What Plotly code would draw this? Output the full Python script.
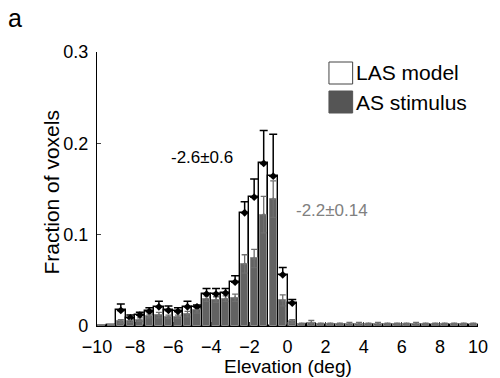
import plotly.graph_objects as go

# ---- data ----
bin_centers = [-9.75 + 0.5 * i for i in range(40)]
las_model = [0.0, 0.001, 0.017, 0.009, 0.012, 0.016, 0.021, 0.017, 0.016, 0.021,
             0.021, 0.035, 0.035, 0.036, 0.048, 0.124, 0.141, 0.178, 0.164, 0.056,
             0.025, 0.001, 0.002, 0.001, 0.001, 0.001, 0.001, 0.001, 0.001, 0.001,
             0.001, 0.001, 0.001, 0.001, 0.001, 0.001, 0.001, 0.001, 0.001, 0.001]
las_err = [0.0, 0.0, 0.007, 0.003, 0.003, 0.004, 0.006, 0.005, 0.004, 0.006,
           0.002, 0.006, 0.006, 0.005, 0.007, 0.012, 0.020, 0.036, 0.046, 0.008,
           0.004, 0.001, 0.001, 0.0, 0.0, 0.0, 0.0, 0.0, 0.0, 0.0,
           0.0, 0.0, 0.0, 0.0, 0.0, 0.0, 0.0, 0.0, 0.0, 0.0]
as_stim = [0.0, 0.001, 0.005, 0.006, 0.007, 0.011, 0.012, 0.010, 0.010, 0.013,
           0.017, 0.030, 0.029, 0.030, 0.031, 0.068, 0.074, 0.122, 0.139, 0.028,
           0.005, 0.002, 0.003, 0.002, 0.002, 0.002, 0.002, 0.002, 0.002, 0.002,
           0.002, 0.002, 0.002, 0.002, 0.002, 0.002, 0.002, 0.002, 0.002, 0.002]
as_err = [0.0, 0.0, 0.002, 0.002, 0.002, 0.002, 0.003, 0.002, 0.002, 0.003,
          0.003, 0.003, 0.003, 0.003, 0.004, 0.010, 0.010, 0.020, 0.020, 0.006,
          0.002, 0.001, 0.003, 0.001, 0.001, 0.001, 0.002, 0.002, 0.001, 0.002,
          0.001, 0.001, 0.001, 0.002, 0.001, 0.001, 0.001, 0.001, 0.001, 0.001]
x_ticks = [-10, -8, -6, -4, -2, 0, 2, 4, 6, 8, 10]
y_ticks = [0, 0.1, 0.2, 0.3]
y_tick_labels = ["0", "0.1", "0.2", "0.3"]

FONT = "Liberation Sans, Arial, sans-serif"

fig = go.Figure()
fig.add_trace(go.Bar(
    x=bin_centers, y=las_model, width=0.5,
    marker=dict(color="white", line=dict(color="black", width=1.4)),
    error_y=dict(type="data", symmetric=False, array=las_err,
                 arrayminus=[0] * len(las_err), color="black", thickness=1.5, width=4),
    showlegend=False, name="LAS model"))
fig.add_trace(go.Bar(
    x=bin_centers, y=as_stim, width=0.38,
    marker=dict(color="#626262", line=dict(color="#8a8a8a", width=1)),
    error_y=dict(type="data", array=as_err, color="#6e6e6e", thickness=1.3, width=3),
    showlegend=False, name="AS stimulus"))
fig.add_trace(go.Scatter(
    x=bin_centers[2:21], y=las_model[2:21], mode="markers",
    marker=dict(symbol="diamond", color="black", size=6),
    showlegend=False, hoverinfo="skip"))
fig.add_trace(go.Scatter(
    x=bin_centers[2:], y=as_stim[2:], mode="markers",
    marker=dict(symbol="triangle-up", color="#707070", size=4),
    showlegend=False, hoverinfo="skip"))

L, R, T, B = 97, 483, 52, 326
def px(X):
    return (X - L) / (R - L)
def py(Y):
    return (B - Y) / (B - T)

shapes = [
    dict(type="rect", xref="paper", yref="paper", x0=px(332), x1=px(356), y0=py(84), y1=py(62),
         line=dict(color="#444", width=1), fillcolor="white"),
    dict(type="rect", xref="paper", yref="paper", x0=px(332), x1=px(356), y0=py(113), y1=py(91),
         line=dict(color="#555", width=1), fillcolor="#555555"),
]
annotations = [
    dict(text="LAS model", xref="paper", yref="paper", x=px(357), y=py(73), xanchor="left",
         yanchor="middle", showarrow=False, font=dict(family=FONT, size=21, color="black")),
    dict(text="AS stimulus", xref="paper", yref="paper", x=px(357), y=py(102), xanchor="left",
         yanchor="middle", showarrow=False, font=dict(family=FONT, size=21, color="black")),
    dict(text="-2.6±0.6", xref="paper", yref="paper", x=px(203), y=py(157), xanchor="center",
         yanchor="middle", showarrow=False, font=dict(family=FONT, size=17, color="black")),
    dict(text="-2.2±0.14", xref="paper", yref="paper", x=px(335), y=py(210), xanchor="center",
         yanchor="middle", showarrow=False, font=dict(family=FONT, size=17, color="#808080")),
    dict(text="a", xref="paper", yref="paper", x=px(5), y=py(18), xanchor="left",
         yanchor="middle", showarrow=False, font=dict(family=FONT, size=25, color="black")),
    dict(text="Fraction of voxels", xref="paper", yref="paper", x=px(50), y=py(192), xanchor="center",
         yanchor="middle", textangle=-90, showarrow=False,
         font=dict(family=FONT, size=21, color="black")),
    dict(text="Elevation (deg)", xref="paper", yref="paper", x=px(291), y=py(366), xanchor="center",
         yanchor="middle", showarrow=False, font=dict(family=FONT, size=19, color="black")),
]

fig.update_layout(
    width=500, height=378,
    margin=dict(l=L, r=500 - R, t=T, b=378 - B),
    paper_bgcolor="white", plot_bgcolor="white",
    barmode="overlay", bargap=0,
    font=dict(family=FONT, size=18, color="black"),
    shapes=shapes, annotations=annotations,
    xaxis=dict(range=[-10, 10], tickvals=x_ticks, ticks="inside", ticklen=4,
               showline=True, linecolor="black", linewidth=1.3, showgrid=False,
               zeroline=False, tickfont=dict(size=18), ticklabelstandoff=4),
    yaxis=dict(range=[0, 0.3], tickvals=y_ticks, ticktext=y_tick_labels, ticks="inside",
               ticklen=4, showline=True, linecolor="black", linewidth=1.3, showgrid=False,
               zeroline=False, tickfont=dict(size=18), ticklabelstandoff=4),
)

fig.write_html("out.html")
